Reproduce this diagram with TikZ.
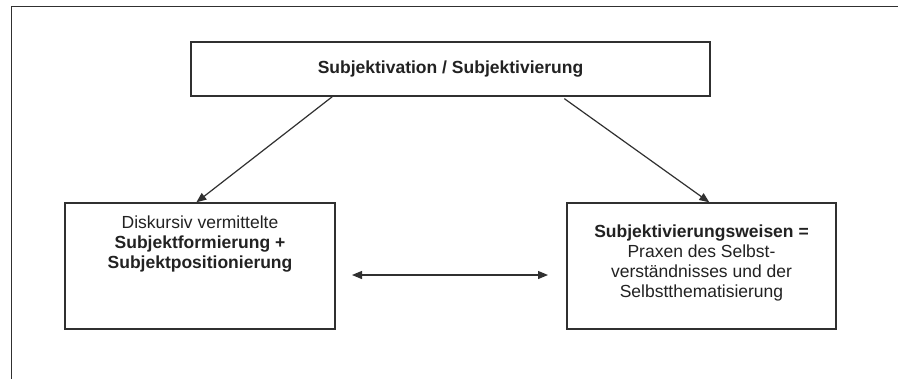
\documentclass[tikz,border=0pt]{standalone}
\usepackage{fontspec}
\setmainfont{Liberation Sans}
\usetikzlibrary{arrows.meta,calc}
\definecolor{ink}{HTML}{222222}
\definecolor{linec}{HTML}{303030}
\begin{document}
\begin{tikzpicture}[x=1pt,y=1pt,
  boxstyle/.style={draw=linec,line width=1.3pt,rectangle,inner sep=0pt},
  txt/.style={text=ink,align=center,font=\fontsize{17.5}{20}\selectfont,inner sep=0pt},
  conn/.style={draw=linec,line width=1.2pt,-{Triangle[length=10pt,width=8pt]}},
  frame/.style={draw=linec,line width=1.4pt}]
\useasboundingbox[fill=white] (0,0) rectangle (898,-378);
% outer frame (cut at the picture's right and bottom edges)
\coordinate (fa) at (11.7,-380);
\coordinate (fb) at (11.7,-6.7);
\coordinate (fc) at (900,-6.7);
\draw[frame] (fa) -- (fb) -- (fc);
% boxes
\node[boxstyle,minimum width=519pt,minimum height=54pt] (top) at (450.5,-69) {};
\node[boxstyle,minimum width=270pt,minimum height=126pt] (left) at (200,-266) {};
\node[boxstyle,minimum width=269pt,minimum height=126pt] (right) at (701.5,-266) {};
% texts
\node[txt] (toptext) at (450.5,-69) {\textbf{Subjektivation / Subjektivierung}};
\node[txt,anchor=north] (lefttext) at (200,-216) {Diskursiv vermittelte\\\textbf{Subjektformierung +}\\\textbf{Subjektpositionierung}};
\node[txt,anchor=north] (righttext) at (701.5,-225) {\textbf{Subjektivierungsweisen =}\\Praxen des Selbst-\\verständnisses und der\\Selbstthematisierung};
% connectors
\draw[conn] ([xshift=142pt]top.south west) -- ([xshift=132pt]left.north west);
\draw[conn] ([xshift=374pt,yshift=-2pt]top.south west) -- ([xshift=143pt]right.north west);
\coordinate (da) at (352,-275);
\coordinate (db) at (548,-275);
\draw[conn,{Triangle[length=10pt,width=8pt]}-{Triangle[length=10pt,width=8pt]}] (da) -- (db);
\end{tikzpicture}
\end{document}
